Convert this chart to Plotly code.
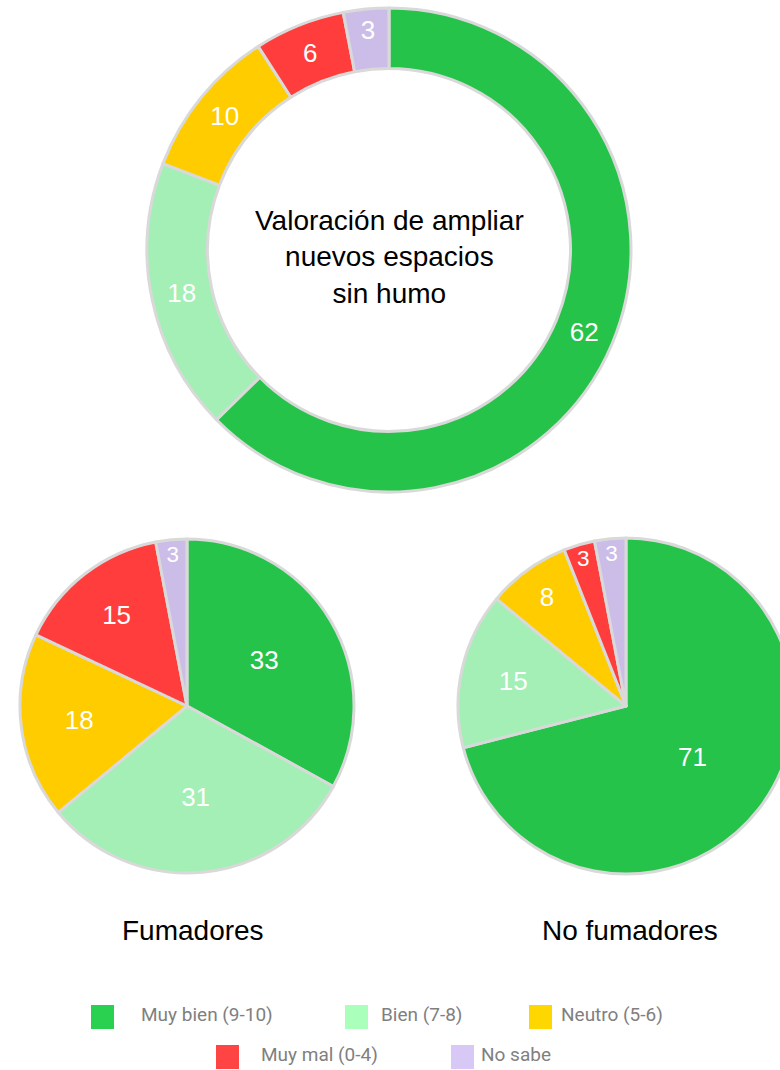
import plotly.graph_objects as go

categories = ["Muy bien (9-10)", "Bien (7-8)", "Neutro (5-6)", "Muy mal (0-4)", "No sabe"]
slice_colors = ["#25C349", "#A3EFB5", "#FFCC00", "#FF3D3D", "#CBBDE8"]
legend_colors = ["#2AD150", "#AAFFBB", "#FFD700", "#FF4444", "#D8C8F5"]

total_values = [62, 18, 10, 6, 3]
fumadores_values = [33, 31, 18, 15, 3]
no_fumadores_values = [71, 15, 8, 3, 3]

center_title = "Valoración de ampliar<br>nuevos espacios<br>sin humo"
sub_titles = ["Fumadores", "No fumadores"]

W, H = 800, 1070
FONT = "Liberation Sans"
LEGEND_FONT = "Roboto"

def px_dom(x0, x1, y0, y1):
    return dict(x=[x0 / W, x1 / W], y=[1 - y1 / H, 1 - y0 / H])

def px_x(x):
    return x / W

def px_y(y):
    return 1 - y / H

common = dict(
    labels=categories,
    marker=dict(colors=slice_colors, line=dict(color="#D9D9D9", width=3)),
    sort=False,
    direction="clockwise",
    rotation=0,
    textinfo="value",
    textposition="inside",
    insidetextorientation="horizontal",
    textfont=dict(color="white", size=26, family=FONT),
    showlegend=False,
    hoverinfo="label+value",
)

fig = go.Figure()
fig.add_trace(go.Pie(values=total_values, hole=0.75,
                     domain=px_dom(147, 631, 8, 492), **common))
fig.add_trace(go.Pie(values=fumadores_values,
                     domain=px_dom(20, 354, 539, 873), **common))
fig.add_trace(go.Pie(values=no_fumadores_values,
                     domain=px_dom(458, 794, 538, 874), **common))

annotations = [
    dict(text=center_title, x=px_x(389), y=px_y(257), xref="paper", yref="paper",
         xanchor="center", yanchor="middle",
         showarrow=False, font=dict(size=28, color="black", family=FONT)),
    dict(text=sub_titles[0], x=px_x(193), y=px_y(930), xref="paper", yref="paper",
         xanchor="center", yanchor="middle",
         showarrow=False, font=dict(size=28, color="black", family=FONT)),
    dict(text=sub_titles[1], x=px_x(630), y=px_y(930), xref="paper", yref="paper",
         xanchor="center", yanchor="middle",
         showarrow=False, font=dict(size=28, color="black", family=FONT)),
]

# manual legend: (square left x, text left x, centre y) in pixels
legend_items = [
    (91, 139, 1017),
    (345, 379, 1017),
    (529, 559, 1017),
    (216, 259, 1057),
    (451, 479, 1057),
]
shapes = []
for (sx, tx, cy), cat, col in zip(legend_items, categories, legend_colors):
    shapes.append(dict(type="rect", xref="paper", yref="paper",
                       x0=px_x(sx), x1=px_x(sx + 23),
                       y0=px_y(cy + 12), y1=px_y(cy - 12),
                       fillcolor=col, line=dict(width=0)))
    annotations.append(dict(text=cat, x=px_x(tx), y=px_y(cy - 3), xref="paper", yref="paper",
                            xanchor="left", yanchor="middle", showarrow=False,
                            font=dict(size=19, color="#808080", family=LEGEND_FONT)))

fig.update_layout(
    width=W, height=H,
    margin=dict(l=0, r=0, t=0, b=0),
    paper_bgcolor="white", plot_bgcolor="white",
    annotations=annotations, shapes=shapes,
    font=dict(family=FONT),
)

fig.write_html("out.html",
               post_script="document.documentElement.style.overflow='hidden';document.body.style.overflow='hidden';document.body.style.margin='0';")
